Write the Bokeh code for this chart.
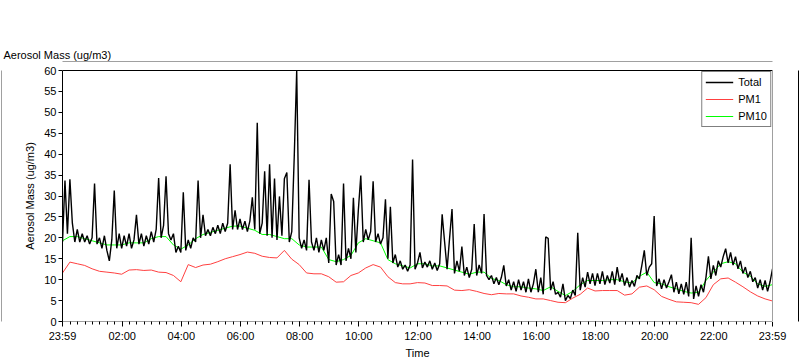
from bokeh.plotting import figure
from bokeh.models import Range1d, FixedTicker, LinearAxis, Title, Legend, LegendItem
from bokeh.embed import file_html
from bokeh.resources import INLINE

# ---------------- data ----------------
x_tick_minutes = [0, 121, 241, 361, 481, 601, 721, 841, 961, 1081, 1201, 1321, 1440]
x_tick_labels = ["23:59", "02:00", "04:00", "06:00", "08:00", "10:00", "12:00",
                 "14:00", "16:00", "18:00", "20:00", "22:00", "23:59"]
y_ticks = [0, 5, 10, 15, 20, 25, 30, 35, 40, 45, 50, 55, 60]

total_step_min = 5
total = [
    19, 33.7, 21, 34, 23.5, 19, 22, 19, 21, 19, 20.5, 18.5,
    20, 33, 18.5, 20, 17.5, 20.5, 17, 14.5, 19.5, 31.3, 17.5, 21,
    17.5, 20.5, 18, 21, 17.5, 19.5, 25.5, 18.5, 21, 18, 20.5, 18.5,
    21.5, 19, 22, 34.3, 20, 23, 34.7, 21, 19.5, 21, 16.5, 18,
    16.5, 30.9, 17, 19.5, 17.5, 20, 19, 33.7, 20, 25.5, 20.5, 22,
    20.5, 22.5, 21, 23, 21, 23.5, 21.5, 23.5, 37.6, 22, 26.6, 22,
    24.5, 22, 24, 21.5, 24, 29.7, 22, 47.5, 21, 23.5, 35.9, 20.5,
    37.6, 20, 34.2, 19.5, 29.9, 20.5, 34.1, 35.6, 19, 21.5, 39.3, 60,
    20, 17.5, 19.5, 17, 33.9, 19, 17, 20, 16.5, 19.5, 17, 20,
    14, 30.5, 28.7, 13.5, 16, 13.5, 33, 14.5, 17.5, 15, 29.6, 16.5,
    26.6, 34.9, 19, 22, 19.5, 21.5, 33.5, 19, 21, 18.5, 20, 29.2,
    15, 27.4, 14, 16, 13, 14.5, 12.5, 13.5, 12, 13.5, 38.7, 12.5,
    14, 16.5, 12.8, 14.2, 13, 14.5, 12.5, 14, 12.2, 13.8, 25.6, 19,
    12.5, 19.8, 26.9, 11.5, 14.5, 12, 17.9, 11, 13, 10.5, 12.5, 23.3,
    11, 13.5, 11.5, 25.7, 11, 10, 11, 9, 10.5, 8.8, 10.5, 13.4,
    8.5, 10, 7.5, 9.5, 7.2, 10, 7.5, 9.5, 7, 10.2, 7, 9,
    12.5, 7, 10.5, 6.5, 20.2, 19.9, 7.5, 9.5, 6.5, 7, 5.8, 9,
    5, 6.2, 5.5, 7.5, 6.2, 21.2, 7.5, 10.5, 8.2, 11.8, 9, 11.5,
    8.6, 11.5, 9, 12, 8.8, 11, 9.2, 12, 8.8, 13, 9.5, 11.5,
    8.6, 10.5, 8.2, 9.8, 8.4, 11, 10.2, 13.4, 17, 11, 13, 13.8,
    25.2, 8.5, 10.2, 7.8, 10, 8, 9.5, 11.2, 7, 9.4, 6.6, 9,
    6.5, 9.4, 6, 20, 5.4, 8.5, 6, 8.8, 7, 10.5, 15.6, 10.2,
    13.4, 11, 14.5, 13, 15.5, 17.4, 14, 16.5, 13.5, 15.5, 12.6, 14.5,
    11.5, 13, 10.5, 12, 9.5, 10.5, 8, 10, 7.5, 9.8, 7.2, 9.5,
    12.6,
]

pm10_step_min = 15
pm10 = [
    19.3, 20.3, 20.3, 19.8,
    19.3, 18.8, 18.3, 18.3,
    18.3, 18.8, 18.8, 18.8,
    19.8, 20.3, 20.3, 18.3,
    17.3, 18.3, 19.8, 20.8,
    21.3, 21.8, 22.3, 22.8,
    22.8, 22.3, 21.8, 20.8,
    20.8, 20.3, 19.8, 19.8,
    18.3, 17.8, 17.8, 17.8,
    14.8, 14.3, 14.8, 15.8,
    18.8, 19.8, 19.3, 18.8,
    14.8, 13.8, 13.3, 12.8,
    13.8, 13.8, 13.3, 13.3,
    12.8, 12.3, 11.8, 11.3,
    11.8, 11.8, 10.3, 9.8,
    8.8, 8.3, 8.3, 8.0,
    7.8, 7.4, 8.3, 7.2,
    6.2, 7.2, 8.8, 9.8,
    9.8, 9.8, 10.0, 10.0,
    9.5, 9.2, 10.8, 11.8,
    9.3, 9.0, 8.3, 7.8,
    7.2, 6.8, 7.0, 9.8,
    11.8, 13.8, 14.3, 13.8,
    11.8, 10.8, 9.0, 8.4,
    8.8,
]

pm1_step_min = 15
pm1 = [
    11.6, 14.2, 13.8, 13.4,
    12.6, 12.0, 11.8, 11.6,
    11.3, 12.3, 12.4, 12.2,
    12.3, 11.8, 11.7, 11.0,
    9.5, 13.6, 12.9, 13.5,
    13.7, 14.3, 15.0, 15.5,
    16.0, 16.6, 16.3, 15.6,
    15.3, 15.2, 17.0, 14.9,
    13.6, 11.6, 11.4, 11.4,
    10.7, 9.4, 9.5, 11.0,
    11.6, 12.8, 13.6, 13.0,
    10.7, 9.3, 9.0, 9.0,
    9.3, 9.2, 8.6, 8.6,
    8.5, 7.5, 7.4, 7.6,
    7.2, 6.7, 6.4, 6.7,
    6.6, 6.6, 6.1, 5.8,
    5.4, 5.4, 5.0, 4.6,
    4.5, 5.6, 6.5, 8.0,
    7.3, 7.4, 7.4, 7.4,
    6.3, 6.6, 8.2, 8.5,
    7.6, 6.0, 5.3, 4.7,
    4.6, 4.5, 4.1, 5.7,
    8.8, 10.2, 10.4, 9.4,
    8.3, 7.1, 6.1, 5.4,
    4.9,
]

series_names = ["Total", "PM1", "PM10"]
series_colors = ["#000000", "#ff4040", "#00ff00"]

t_total = [i * total_step_min for i in range(len(total))]
t_pm10 = [i * pm10_step_min for i in range(len(pm10))]
t_pm1 = [i * pm1_step_min for i in range(len(pm1))]
minor_minutes = list(range(1, 1440, 15))

# ---------------- layout ----------------
FONT = "Liberation Sans"
FS = "11px"
W, H = 800, 361
ML, MR, MT, MB = 62, 28, 70, 40

p = figure(width=W, height=H, output_backend="svg", toolbar_location=None,
           x_range=Range1d(0, 1440), y_range=Range1d(0, 60),
           min_border_left=ML, min_border_right=MR, min_border_top=MT, min_border_bottom=MB)
p.title.visible = False
p.grid.visible = False
p.outline_line_color = None
p.background_fill_color = "white"
p.border_fill_color = "white"


def plain_axis(color, extent):
    """Axis drawn only as a border line.  A single white (invisible) tick of length
    'extent' reserves that much empty depth in the side panel."""
    ticks = [0] if extent > 0 else []
    ax = LinearAxis(ticker=FixedTicker(ticks=ticks),
                    major_tick_line_color="white", minor_tick_line_color=None,
                    major_tick_in=0, minor_tick_in=0,
                    major_tick_out=extent, minor_tick_out=0,
                    major_label_standoff=0, major_label_text_font_size="0px",
                    major_label_overrides={0: ""})
    ax.axis_line_color = color
    return ax


xa = p.xaxis[0]
xa.ticker = FixedTicker(ticks=x_tick_minutes, minor_ticks=minor_minutes)
xa.major_label_overrides = {m: s for m, s in zip(x_tick_minutes, x_tick_labels)}
xa.axis_line_color = "#a0a0a0"
xa.major_tick_in = 0
xa.major_tick_out = 5
xa.minor_tick_in = 0
xa.minor_tick_out = 3
xa.major_tick_line_color = "black"
xa.minor_tick_line_color = "black"
xa.major_label_standoff = 3
xa.major_label_text_font = FONT
xa.major_label_text_font_size = FS
xa.major_label_text_color = "black"
xa.axis_label = "Time"
xa.axis_label_standoff = 2
xa.axis_label_text_font = FONT
xa.axis_label_text_font_size = FS
xa.axis_label_text_font_style = "normal"
xa.axis_label_text_color = "black"

ya = p.yaxis[0]
ya.ticker = FixedTicker(ticks=y_ticks)
ya.axis_line_color = "black"
ya.major_tick_in = 0
ya.major_tick_out = 4
ya.minor_tick_in = 0
ya.minor_tick_out = 0
ya.minor_tick_line_color = None
ya.major_tick_line_color = "black"
ya.major_label_standoff = 2
ya.major_label_text_font = FONT
ya.major_label_text_font_size = FS
ya.major_label_text_color = "black"
ya.axis_label = "Aerosol Mass (ug/m3)"
ya.axis_label_standoff = 5
ya.axis_label_text_font = FONT
ya.axis_label_text_font_size = FS
ya.axis_label_text_font_style = "normal"
ya.axis_label_text_color = "black"

# frame edges and the outer (sunken) panel border
p.add_layout(plain_axis("black", 9), "above")      # plot top edge
p.add_layout(plain_axis("#a0a0a0", 0), "above")    # panel top border
p.add_layout(plain_axis("#a0a0a0", 26), "right")   # plot right edge
p.add_layout(plain_axis("black", 0), "right")      # panel right border
p.add_layout(plain_axis("white", 20), "left")      # spacer
p.add_layout(plain_axis("#a0a0a0", 0), "left")     # panel left border

# data lines
r_pm10 = p.line(t_pm10, pm10, line_color=series_colors[2], line_width=1)
r_total = p.line(t_total, total, line_color=series_colors[0], line_width=1.4)
r_pm1 = p.line(t_pm1, pm1, line_color=series_colors[1], line_width=1)

# top-left caption
p.add_layout(Title(text="Aerosol Mass (ug/m3)", align="left", offset=-59, standoff=2,
                   text_font=FONT, text_font_size=FS, text_font_style="normal",
                   text_color="black"), "above")

# legend (top right)
legend = Legend(items=[LegendItem(label=n, renderers=[r])
                       for n, r in zip(series_names, [r_total, r_pm1, r_pm10])],
                location="top_right", orientation="vertical",
                glyph_width=28, glyph_height=14, label_height=14, label_width=24,
                label_standoff=5, spacing=3, padding=3, margin=1,
                label_text_font=FONT, label_text_font_size=FS, label_text_color="black",
                border_line_color="black", border_line_width=1,
                background_fill_color="white", background_fill_alpha=1)
p.add_layout(legend, "center")

open("out.html", "w").write(file_html(p, INLINE))
